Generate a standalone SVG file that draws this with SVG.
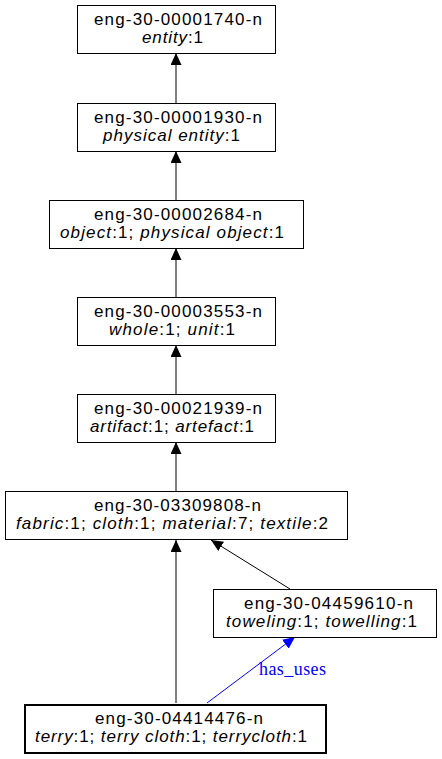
<svg xmlns="http://www.w3.org/2000/svg" width="442" height="759" viewBox="0 0 442 759">
<style>
.box{fill:#fff;stroke:#000;stroke-width:1}
.bold{stroke-width:2}
text{font-family:"Liberation Sans",Arial,sans-serif;font-size:17px;fill:#000}
.i{font-style:italic}
.lbl{font-family:"Liberation Serif","Times New Roman",serif;font-size:18px;fill:#00f}
.e{stroke:#000;stroke-width:1;fill:none;marker-end:url(#ah)}
.eb{stroke:#00f;stroke-width:1;fill:none;marker-end:url(#ahb)}
</style>
<defs>
<marker id="ah" markerUnits="userSpaceOnUse" markerWidth="12" markerHeight="11" refX="12" refY="5.5" orient="auto"><path d="M0,0 L12,5.5 L0,11 z" fill="#000"/></marker>
<marker id="ahb" markerUnits="userSpaceOnUse" markerWidth="12" markerHeight="11" refX="12" refY="5.5" orient="auto"><path d="M0,0 L12,5.5 L0,11 z" fill="#00f"/></marker>
</defs>
<rect width="442" height="759" fill="#fff"/>
<g id="edges">
<line class="e" x1="176" y1="103" x2="176" y2="53"/>
<line class="e" x1="176" y1="200" x2="176" y2="151"/>
<line class="e" x1="176" y1="297" x2="176" y2="248"/>
<line class="e" x1="176" y1="394" x2="176" y2="345"/>
<line class="e" x1="176" y1="491" x2="176" y2="442"/>
<line class="e" x1="176" y1="703" x2="176" y2="540"/>
<line class="e" x1="290" y1="589" x2="211" y2="540"/>
<line class="eb" x1="207" y1="703" x2="295" y2="637"/>
<text class="lbl" x="259" y="675" textLength="67" lengthAdjust="spacing">has_uses</text>
</g>
<g id="n1">
<rect class="box" x="77.5" y="5.5" width="198" height="48"/>
<text x="94" y="24.5" textLength="168" lengthAdjust="spacing">eng-30-00001740-n</text>
<text x="142" y="43" textLength="61" lengthAdjust="spacing"><tspan class="i">entity</tspan>:1</text>
</g>
<g id="n2">
<rect class="box" x="77.5" y="103.5" width="198" height="48"/>
<text x="94" y="122.5" textLength="168" lengthAdjust="spacing">eng-30-00001930-n</text>
<text x="103" y="141" textLength="137" lengthAdjust="spacing"><tspan class="i">physical entity</tspan>:1</text>
</g>
<g id="n3">
<rect class="box" x="49.5" y="200.5" width="254" height="48"/>
<text x="94" y="219.5" textLength="168" lengthAdjust="spacing">eng-30-00002684-n</text>
<text x="60" y="238" textLength="224" lengthAdjust="spacing"><tspan class="i">object</tspan>:1; <tspan class="i">physical object</tspan>:1</text>
</g>
<g id="n4">
<rect class="box" x="77.5" y="297.5" width="198" height="48"/>
<text x="94" y="316.5" textLength="168" lengthAdjust="spacing">eng-30-00003553-n</text>
<text x="109" y="335" textLength="126" lengthAdjust="spacing"><tspan class="i">whole</tspan>:1; <tspan class="i">unit</tspan>:1</text>
</g>
<g id="n5">
<rect class="box" x="77.5" y="394.5" width="198" height="48"/>
<text x="94" y="413.5" textLength="168" lengthAdjust="spacing">eng-30-00021939-n</text>
<text x="90" y="432" textLength="164" lengthAdjust="spacing"><tspan class="i">artifact</tspan>:1; <tspan class="i">artefact</tspan>:1</text>
</g>
<g id="n6">
<rect class="box" x="5.5" y="491.5" width="342" height="48"/>
<text x="94" y="510.5" textLength="167" lengthAdjust="spacing">eng-30-03309808-n</text>
<text x="16" y="529" textLength="312" lengthAdjust="spacing"><tspan class="i">fabric</tspan>:1; <tspan class="i">cloth</tspan>:1; <tspan class="i">material</tspan>:7; <tspan class="i">textile</tspan>:2</text>
</g>
<g id="n7">
<rect class="box" x="213.5" y="589.5" width="223" height="48"/>
<text x="244" y="608.5" textLength="169" lengthAdjust="spacing">eng-30-04459610-n</text>
<text x="226" y="627" textLength="191" lengthAdjust="spacing"><tspan class="i">toweling</tspan>:1; <tspan class="i">towelling</tspan>:1</text>
</g>
<g id="n8">
<rect class="box bold" x="25" y="705" width="301" height="48"/>
<text x="95" y="723.5" textLength="168" lengthAdjust="spacing">eng-30-04414476-n</text>
<text x="35" y="742" textLength="272" lengthAdjust="spacing"><tspan class="i">terry</tspan>:1; <tspan class="i">terry cloth</tspan>:1; <tspan class="i">terrycloth</tspan>:1</text>
</g>
</svg>
